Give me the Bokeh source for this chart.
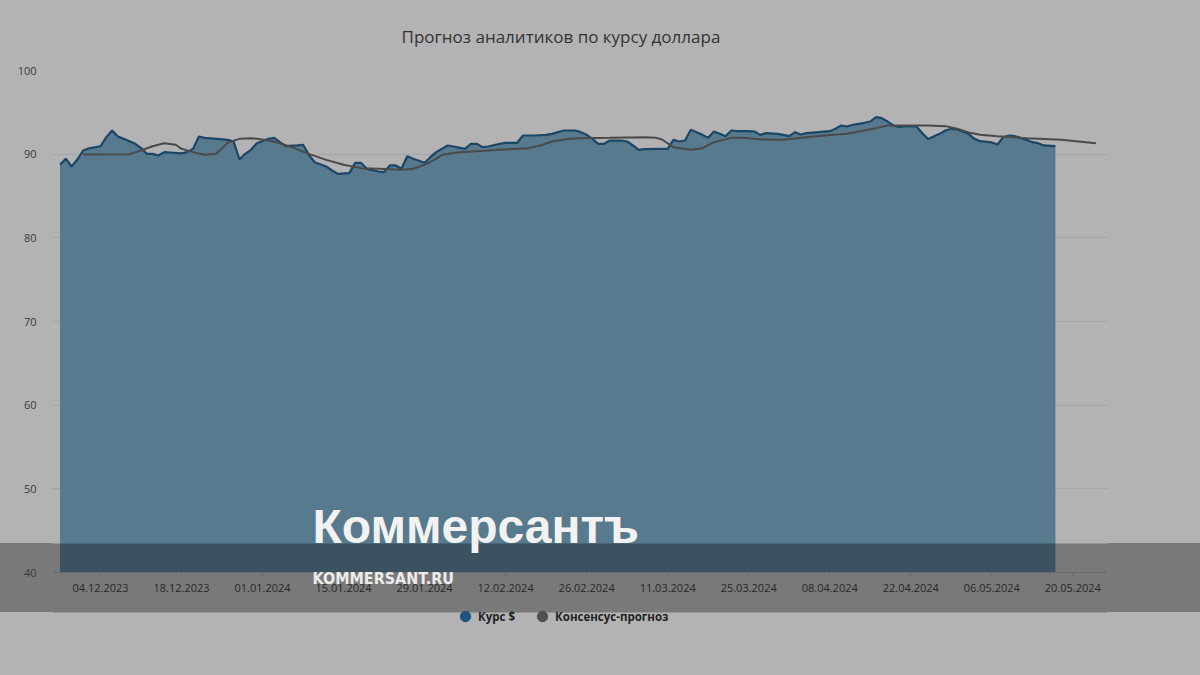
import pandas as pd
from bokeh.plotting import figure
from bokeh.models import (FixedTicker, DatetimeTickFormatter, Legend, LegendItem,
                          BoxAnnotation, Label, Range1d, ColumnDataSource, InlineStyleSheet)
from bokeh.embed import file_html
from bokeh.resources import INLINE

# ---------------- data ----------------
chart_title = "Прогноз аналитиков по курсу доллара"
series_names = ["Курс $", "Консенсус-прогноз"]

rate_dates = [
    "2023-11-27", "2023-11-28", "2023-11-29", "2023-11-30", "2023-12-01", "2023-12-02",
    "2023-12-04", "2023-12-05", "2023-12-06", "2023-12-07", "2023-12-08", "2023-12-10",
    "2023-12-11", "2023-12-12", "2023-12-13", "2023-12-14", "2023-12-15", "2023-12-16",
    "2023-12-18", "2023-12-19", "2023-12-20", "2023-12-21", "2023-12-22", "2023-12-24",
    "2023-12-26", "2023-12-27", "2023-12-28", "2023-12-29", "2023-12-30", "2023-12-31",
    "2024-01-02", "2024-01-03", "2024-01-04", "2024-01-05", "2024-01-07", "2024-01-08",
    "2024-01-09", "2024-01-10", "2024-01-12", "2024-01-13", "2024-01-14", "2024-01-16",
    "2024-01-17", "2024-01-18", "2024-01-19", "2024-01-21", "2024-01-22", "2024-01-23",
    "2024-01-24", "2024-01-25", "2024-01-26", "2024-01-27", "2024-01-29", "2024-01-30",
    "2024-01-31", "2024-02-02", "2024-02-03", "2024-02-05", "2024-02-06", "2024-02-07",
    "2024-02-08", "2024-02-09", "2024-02-11", "2024-02-12", "2024-02-14", "2024-02-15",
    "2024-02-17", "2024-02-19", "2024-02-20", "2024-02-22", "2024-02-23", "2024-02-24",
    "2024-02-25", "2024-02-26", "2024-02-27", "2024-02-28", "2024-02-29", "2024-03-01",
    "2024-03-03", "2024-03-04", "2024-03-05", "2024-03-06", "2024-03-07", "2024-03-09",
    "2024-03-11", "2024-03-12", "2024-03-13", "2024-03-14", "2024-03-15", "2024-03-16",
    "2024-03-17", "2024-03-18", "2024-03-19", "2024-03-20", "2024-03-21", "2024-03-22",
    "2024-03-23", "2024-03-25", "2024-03-26", "2024-03-27", "2024-03-28", "2024-03-30",
    "2024-03-31", "2024-04-01", "2024-04-02", "2024-04-03", "2024-04-04", "2024-04-06",
    "2024-04-08", "2024-04-09", "2024-04-10", "2024-04-11", "2024-04-12", "2024-04-14",
    "2024-04-15", "2024-04-16", "2024-04-17", "2024-04-18", "2024-04-19", "2024-04-20",
    "2024-04-21", "2024-04-23", "2024-04-24", "2024-04-25", "2024-04-27", "2024-04-28",
    "2024-04-29", "2024-04-30", "2024-05-02", "2024-05-03", "2024-05-04", "2024-05-06",
    "2024-05-07", "2024-05-08", "2024-05-09", "2024-05-10", "2024-05-12", "2024-05-13",
    "2024-05-14", "2024-05-15", "2024-05-17",
]
rate_values = [
    88.73, 89.45, 88.53, 89.36, 90.44, 90.70,
    90.95, 92.03, 92.83, 92.11, 91.83, 91.24,
    90.72, 90.04, 90.04, 89.84, 90.24, 90.20,
    90.10, 90.24, 90.64, 92.11, 91.95, 91.83,
    91.71, 91.51, 89.36, 90.04, 90.52, 91.31,
    91.83, 91.95, 91.43, 90.95, 91.04, 91.12,
    89.92, 89.04, 88.53, 88.05, 87.65, 87.73,
    88.97, 88.97, 88.25, 87.93, 87.85, 88.65,
    88.65, 88.25, 89.76, 89.45, 88.97, 89.64,
    90.24, 91.04, 90.92, 90.64, 91.24, 91.24,
    90.84, 90.92, 91.24, 91.36, 91.36, 92.23,
    92.23, 92.31, 92.43, 92.83, 92.83, 92.83,
    92.63, 92.31, 91.83, 91.24, 91.24, 91.63,
    91.63, 91.51, 91.04, 90.52, 90.60, 90.64,
    90.64, 91.71, 91.51, 91.63, 92.91, 92.63,
    92.31, 91.95, 92.71, 92.43, 92.15, 92.83,
    92.75, 92.75, 92.70, 92.31, 92.51, 92.43,
    92.31, 92.15, 92.63, 92.35, 92.51, 92.63,
    92.75, 93.03, 93.43, 93.31, 93.51, 93.75,
    93.90, 94.42, 94.30, 93.90, 93.43, 93.23,
    93.35, 93.31, 92.50, 91.80, 92.43, 92.83,
    93.03, 92.95, 92.43, 91.83, 91.55, 91.40,
    91.16, 92.03, 92.23, 92.15, 91.71, 91.43,
    91.31, 91.04, 90.95,
]

consensus_dates = [
    "2023-12-01", "2023-12-09", "2023-12-11", "2023-12-13", "2023-12-15", "2023-12-17",
    "2023-12-18", "2023-12-20", "2023-12-22", "2023-12-24", "2023-12-25", "2023-12-26",
    "2023-12-28", "2023-12-30", "2023-12-31", "2024-01-02", "2024-01-04", "2024-01-06",
    "2024-01-09", "2024-01-12", "2024-01-15", "2024-01-18", "2024-01-21", "2024-01-25",
    "2024-01-27", "2024-01-29", "2024-01-31", "2024-02-01", "2024-02-04", "2024-02-07",
    "2024-02-11", "2024-02-16", "2024-02-18", "2024-02-20", "2024-02-23", "2024-02-25",
    "2024-03-01", "2024-03-07", "2024-03-09", "2024-03-10", "2024-03-12", "2024-03-15",
    "2024-03-17", "2024-03-19", "2024-03-22", "2024-03-24", "2024-03-26", "2024-03-29",
    "2024-03-31", "2024-04-04", "2024-04-07", "2024-04-11", "2024-04-13", "2024-04-16",
    "2024-04-18", "2024-04-20", "2024-04-25", "2024-04-28", "2024-04-30", "2024-05-02",
    "2024-05-04", "2024-05-07", "2024-05-12", "2024-05-18", "2024-05-24",
]
consensus_values = [
    89.95, 90.00, 90.44, 90.95, 91.31, 91.12,
    90.64, 90.24, 89.92, 90.04, 90.72, 91.40,
    91.83, 91.91, 91.83, 91.63, 91.31, 90.84,
    90.04, 89.32, 88.73, 88.33, 88.25, 88.13,
    88.25, 88.73, 89.45, 89.92, 90.24, 90.36,
    90.52, 90.72, 91.04, 91.51, 91.83, 91.91,
    91.95, 92.03, 91.95, 91.75, 90.84, 90.52,
    90.72, 91.43, 91.95, 91.95, 91.83, 91.71,
    91.71, 92.03, 92.23, 92.43, 92.71, 93.11,
    93.43, 93.43, 93.43, 93.35, 93.03, 92.60,
    92.31, 92.15, 91.91, 91.71, 91.31,
]

x_tick_dates = ["2023-12-04", "2023-12-18", "2024-01-01", "2024-01-15", "2024-01-29",
                "2024-02-12", "2024-02-26", "2024-03-11", "2024-03-25", "2024-04-08",
                "2024-04-22", "2024-05-06", "2024-05-20"]
y_ticks = [40, 50, 60, 70, 80, 90, 100]

watermark_big = "Коммерсантъ"
watermark_small = "KOMMERSANT.RU"

# ---------------- styling ----------------
BG = "#b3b3b3"
BAND = "#7a7a7a"
AREA = "#587a8e"
LINE = "#1b4666"
CONS = "#4a4a4a"
TXT = "#3a3a3a"

rate_src = ColumnDataSource(dict(x=pd.to_datetime(rate_dates), y=rate_values))
cons_src = ColumnDataSource(dict(x=pd.to_datetime(consensus_dates), y=consensus_values))

ref = pd.Timestamp("2023-12-04")
x_start = ref - pd.Timedelta(days=8.3)
x_end = ref + pd.Timedelta(days=174.0)
y_bottom = 40 - 103 / (502 / 60)   # frame reaches the bottom of the page

page_css = InlineStyleSheet(css=(
    ":host { background: linear-gradient(to bottom, %s 0px, %s 543px, %s 543px, "
    "%s 612px, %s 612px) !important; }" % (BG, BG, BAND, BAND, BG)))

p = figure(x_axis_type="datetime", output_backend="svg", toolbar_location=None,
           frame_width=1055, frame_height=605,
           min_border_left=52, min_border_right=93, min_border_top=70, min_border_bottom=0,
           x_range=Range1d(x_start, x_end), y_range=Range1d(y_bottom, 100),
           background_fill_color=BG, border_fill_color=BG, border_fill_alpha=0,
           outline_line_color=None, stylesheets=[page_css])
# a range that keeps the legend-marker renderers out of view
p.extra_y_ranges = {"legend_only": Range1d(1000, 1001)}

p.title.text = chart_title
p.title.align = "left"
p.title.offset = 349
p.title.text_font = "Open Sans"
p.title.text_font_size = "17px"
p.title.text_font_style = "normal"
p.title.text_color = "#333333"
p.title.standoff = 45

# area + lines
p.varea(x="x", y1=40, y2="y", source=rate_src, fill_color=AREA, fill_alpha=1.0)
p.line(x="x", y="y", source=rate_src, line_color=LINE, line_width=2.2)
p.line(x="x", y="y", source=cons_src, line_color=CONS, line_width=2)

# axes
p.xaxis.fixed_location = 40
p.xaxis.ticker = FixedTicker(ticks=[pd.Timestamp(d).value / 1e6 for d in x_tick_dates])
p.xaxis.formatter = DatetimeTickFormatter(days="%d.%m.%Y", months="%d.%m.%Y",
                                          years="%d.%m.%Y")
p.xaxis.axis_line_color = "#9c9c9c"
p.xaxis.major_tick_line_color = "#9c9c9c"
p.xaxis.major_tick_out = 5
p.xaxis.major_tick_in = 0
p.xaxis.minor_tick_line_color = None
p.xaxis.major_label_text_font = "Open Sans"
p.xaxis.major_label_text_font_size = "11px"
p.xaxis.major_label_text_color = TXT
p.xaxis.major_label_standoff = 6

p.yaxis.ticker = FixedTicker(ticks=y_ticks)
p.yaxis.axis_line_color = None
p.yaxis.major_tick_line_color = None
p.yaxis.minor_tick_line_color = None
p.yaxis.major_label_text_font = "Open Sans"
p.yaxis.major_label_text_font_size = "11px"
p.yaxis.major_label_text_color = TXT
p.yaxis.major_label_standoff = 10

p.xgrid.grid_line_color = None
p.ygrid.grid_line_color = "#a6a6a6"
p.ygrid.grid_line_width = 1

# watermark band
band = BoxAnnotation(left=0, right=1200, top=543, bottom=612,
                     left_units="canvas", right_units="canvas",
                     top_units="canvas", bottom_units="canvas",
                     fill_color="black", fill_alpha=0.32, line_color=None, level="overlay")
p.add_layout(band)
p.add_layout(Label(x=312, y=526, x_units="canvas", y_units="canvas", text=watermark_big,
                   text_font="Liberation Sans", text_font_style="bold",
                   text_font_size="48px", text_color="#f2f2f2",
                   text_baseline="alphabetic", level="overlay"))
p.add_layout(Label(x=312, y=578, x_units="canvas", y_units="canvas", text=watermark_small,
                   text_font="'DejaVu Sans Condensed', 'Liberation Sans'",
                   text_font_style="bold",
                   text_font_size="16px", text_color="#ececec",
                   text_baseline="alphabetic", level="overlay"))

# legend with circle markers (marker renderers mapped outside the visible range)
r1 = p.scatter(x="x", y="y", source=rate_src, y_range_name="legend_only",
               marker="circle", size=10, fill_color="#1d5580", line_color="#1d5580")
r2 = p.scatter(x="x", y="y", source=cons_src, y_range_name="legend_only",
               marker="circle", size=10, fill_color="#505050", line_color="#505050")
legend = Legend(items=[LegendItem(label=series_names[0], renderers=[r1]),
                       LegendItem(label=series_names[1], renderers=[r2])],
                orientation="horizontal", location=(400, 46),
                background_fill_alpha=0, border_line_color=None,
                label_text_font="Open Sans", label_text_font_style="bold",
                label_text_font_size="11.5px", label_text_color="#222222",
                glyph_width=26, glyph_height=26, label_standoff=0, spacing=14,
                padding=0, margin=0)
p.add_layout(legend, "center")

open("out.html", "w").write(file_html(p, INLINE))
